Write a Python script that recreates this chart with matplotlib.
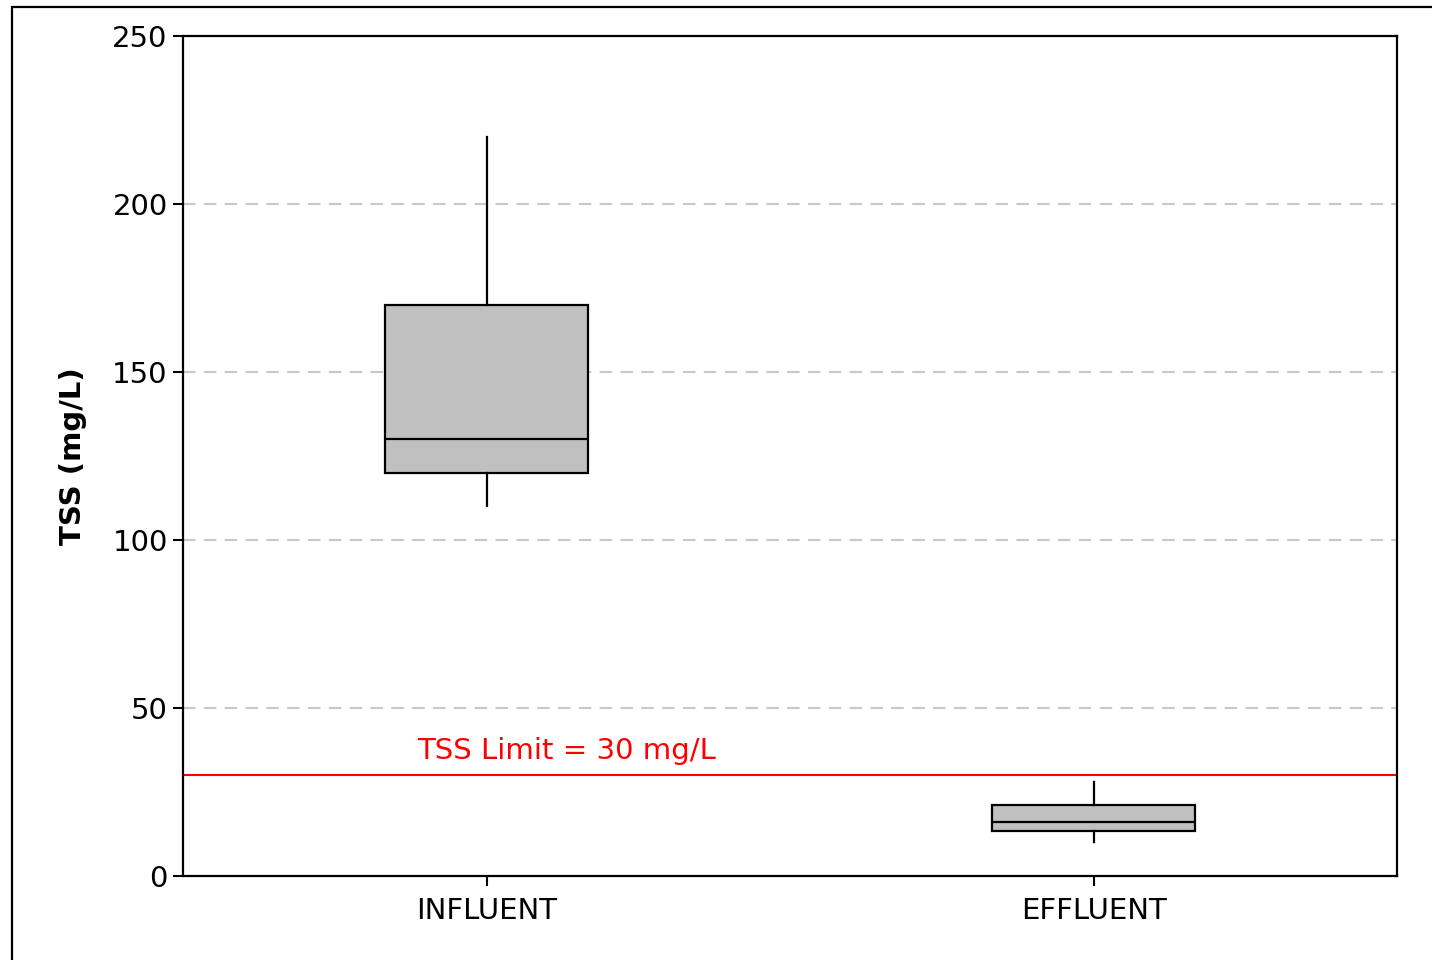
import numpy as np
import matplotlib.pyplot as plt
from matplotlib.patches import Rectangle

# box summary for each sampling point (mg/L)
categories = ['INFLUENT', 'EFFLUENT']
whisker_low = [110, 10]
q1 = [120, 13.5]
median = [130, 16]
q3 = [170, 21]
whisker_high = [220, 28]
tss_limit = 30
yticks = [0, 50, 100, 150, 200, 250]

plt.rcParams['font.family'] = 'DejaVu Sans'

fig = plt.figure(figsize=(14.32, 9.6), dpi=100)
ax = fig.add_axes([183/1432, 1-876/960, (1397-183)/1432, (876-36)/960])

stats = []
for i, name in enumerate(categories):
    stats.append(dict(label=name, whislo=whisker_low[i], q1=q1[i], med=median[i],
                      q3=q3[i], whishi=whisker_high[i], fliers=[]))

positions = np.arange(1, len(categories) + 1)
ax.bxp(stats, positions=positions, widths=0.333, patch_artist=True,
       showcaps=False, showfliers=False,
       boxprops=dict(facecolor='#c0c0c0', edgecolor='black', linewidth=1.6),
       medianprops=dict(color='black', linewidth=1.6),
       whiskerprops=dict(color='black', linewidth=1.6), zorder=3)

# dashed grid only between the ends of the axis
for y in yticks[1:-1]:
    ax.axhline(y, color='#c8c8c8', linewidth=1.5, dashes=(6, 4), zorder=1)

ax.axhline(tss_limit, color='#ff0000', linewidth=1.5, zorder=2)
ax.text(0.885, tss_limit + 3.0, f'TSS Limit = {tss_limit} mg/L', color='#ff0000',
        fontsize=21, va='bottom', ha='left')

ax.set_xlim(0.5, 2.5)
ax.set_ylim(0, 250)
ax.set_yticks(yticks)
ax.set_xticks(positions)
ax.set_xticklabels(categories)
ax.tick_params(axis='both', labelsize=21, length=7, width=1.5, direction='out')
ax.tick_params(axis='y', pad=4)
ax.tick_params(axis='x', pad=8)
ax.set_ylabel('TSS (mg/L)', fontsize=21, fontweight='bold', labelpad=18)
for s in ax.spines.values():
    s.set_linewidth(1.6)

# outer frame around the figure
fig.patches.append(Rectangle((12/1432, -0.1), 1.2, 1.1 - 7/960, transform=fig.transFigure,
                             fill=False, edgecolor='black', linewidth=1.6))

fig.savefig('out.png', dpi=100)
